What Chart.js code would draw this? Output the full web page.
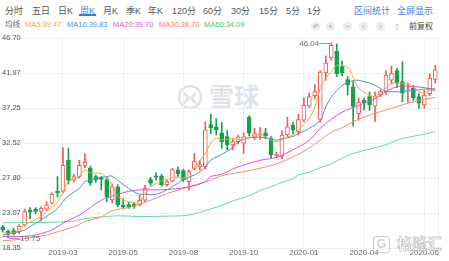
<!DOCTYPE html>
<html>
<head>
<meta charset="utf-8">
<script src="https://cdn.jsdelivr.net/npm/chart.js@4.4.0/dist/chart.umd.min.js"></script>
<style>
  body { margin: 0; background: #fff; font-family: "Liberation Sans", "Noto Sans CJK SC", sans-serif; }
  #wrap { position: relative; width: 449px; height: 261px; overflow: hidden; }
  .t { position: absolute; white-space: nowrap; line-height: 1; }
  .tab { top: 6.5px; font-size: 9px; color: #555; }
  .blue { color: #3d7de0; }
  .ma { top: 20.8px; font-size: 7.5px; }
  .ic { position: absolute; top: 22px; width: 9px; height: 9px; border-radius: 50%; background: #ececec;
        color: #9a9a9a; font-size: 7px; line-height: 9px; text-align: center; }
  #chart { position: absolute; left: 0; top: 0; z-index: 1; }
  #xq { position: absolute; left: 176px; top: 83px; z-index: 0; }
  #glh { position: absolute; left: 372px; top: 235px; z-index: 2; }
</style>
</head>
<body>
<div id="wrap">
  <span class="t tab" style="left:5px">分时</span>
  <span class="t tab" style="left:32px">五日</span>
  <span class="t tab" style="left:58px">日K</span>
  <span class="t tab blue" style="left:80px">周K</span>
  <div style="position:absolute;left:79px;top:14px;width:17px;height:1.5px;background:#3d7de0"></div>
  <span class="t tab" style="left:103px">月K</span>
  <span class="t tab" style="left:126px">季K</span>
  <span class="t tab" style="left:148px">年K</span>
  <span class="t tab" style="left:172px">120分</span>
  <span class="t tab" style="left:203px">60分</span>
  <span class="t tab" style="left:231px">30分</span>
  <span class="t tab" style="left:259px">15分</span>
  <span class="t tab" style="left:286px">5分</span>
  <span class="t tab" style="left:307px">1分</span>
  <span class="t tab blue" style="left:354px">区间统计</span>
  <span class="t tab blue" style="left:397px">全屏显示</span>

  <span class="t ma" style="left:5px;color:#666">均线</span>
  <span class="t ma" style="left:25px;color:#f5a33c">MA5:39.47</span>
  <span class="t ma" style="left:67px;color:#4d8fd6">MA10:39.83</span>
  <span class="t ma" style="left:113px;color:#e255cf">MA20:39.70</span>
  <span class="t ma" style="left:159px;color:#fa7d57">MA30:38.70</span>
  <span class="t ma" style="left:204px;color:#3cc77f">MA60:34.09</span>

  <span class="ic" style="left:311px">&#x21b6;</span>
  <span class="ic" style="left:326px">+</span>
  <span class="ic" style="left:343px">&minus;</span>
  <span class="ic" style="left:359px">&lsaquo;</span>
  <span class="ic" style="left:376px">&rsaquo;</span>
  <span class="ic" style="left:392px;background:none;color:#aaa">&#x25af;</span>
  <span class="t" style="left:409px;top:23px;font-size:8px;color:#444">前复权</span>

  <div id="xq">
    <svg width="90" height="30" style="position:absolute;left:0;top:0">
      <circle cx="14" cy="14" r="11" fill="none" stroke="#dfe4ec" stroke-width="2.5"/>
      <path d="M8 10 L13 15 L8 20 M20 10 L15 15 L20 20" fill="none" stroke="#dfe4ec" stroke-width="2.5"/>
    </svg>
    <span class="t" style="left:33px;top:2px;font-size:25px;font-weight:bold;color:#dfe4ec">雪球</span>
  </div>

  <div id="glh">
    <div style="position:absolute;left:1px;top:1px;width:15px;height:15px;border:1.5px solid #cfcfcf;border-radius:3px;
                color:#cfcfcf;font-size:12px;font-weight:bold;line-height:15px;text-align:center">G</div>
    <span class="t" style="left:25px;top:1px;font-size:15px;font-weight:bold;color:rgba(255,255,255,0.7);-webkit-text-stroke:0.8px #c6c6c6">格隆汇</span>
  </div>

  <canvas id="chart" width="449" height="261"></canvas>
</div>

<script>
// weekly bars, Fridays (holiday weeks skipped)
const weeks = ['2018-12-14','2018-12-21','2018-12-28','2019-01-04','2019-01-11','2019-01-18','2019-01-25','2019-02-01',
  '2019-02-15','2019-02-22','2019-03-01','2019-03-08','2019-03-15','2019-03-22','2019-03-29','2019-04-04','2019-04-12',
  '2019-04-19','2019-04-26','2019-04-30','2019-05-10','2019-05-17','2019-05-24','2019-05-31','2019-06-06','2019-06-14',
  '2019-06-21','2019-06-28','2019-07-05','2019-07-12','2019-07-19','2019-07-26','2019-08-02','2019-08-09','2019-08-16',
  '2019-08-23','2019-08-30','2019-09-06','2019-09-12','2019-09-20','2019-09-27','2019-09-30','2019-10-11','2019-10-18',
  '2019-10-25','2019-11-01','2019-11-08','2019-11-15','2019-11-22','2019-11-29','2019-12-06','2019-12-13','2019-12-20',
  '2019-12-27','2020-01-03','2020-01-10','2020-01-17','2020-01-23','2020-02-07','2020-02-14','2020-02-21','2020-02-28',
  '2020-03-06','2020-03-13','2020-03-20','2020-03-27','2020-04-03','2020-04-10','2020-04-17','2020-04-24','2020-04-30',
  '2020-05-08','2020-05-15','2020-05-22','2020-05-29','2020-06-05','2020-06-12','2020-06-19','2020-06-24','2020-07-03'];

const opens  = [21.2,20.6,20.7,20.55,21.45,23.5,23.6,23.3,23.6,24.4,26.0,26.0,30.2,27.5,28.0,29.5,29.1,28.0,27.9,27.6,
  24.85,26.6,24.15,24.2,24.25,24.15,24.8,27.6,28.1,28.1,26.9,27.4,28.9,28.8,27.3,29.1,29.3,29.3,35.0,34.7,
  33.9,33.4,32.25,32.7,32.5,36.0,33.3,33.6,33.9,33.2,30.8,30.7,33.6,34.95,34.05,35.6,37.5,38.9,35.7,42.0,
  44.0,44.9,42.85,41.1,40.1,36.5,38.3,38.8,37.5,39.0,39.45,41.0,42.3,40.8,39.6,39.9,38.8,37.65,39.2,41.1];
const highs  = [21.4,20.8,21.0,21.5,23.6,23.8,23.8,23.9,24.6,25.8,28.0,31.9,31.8,28.3,30.2,31.1,29.4,28.2,28.0,27.9,
  27.0,26.9,25.0,24.5,24.5,25.5,26.8,27.9,28.5,28.3,27.5,29.1,29.3,29.0,28.9,31.1,30.2,35.4,36.4,35.8,
  35.3,34.2,33.1,33.6,33.9,36.2,34.5,34.6,34.5,33.4,31.3,34.2,36.0,35.3,36.4,38.6,39.3,40.4,42.3,44.3,
  46.04,45.9,43.6,41.5,40.8,38.6,38.6,39.4,39.4,39.7,42.3,42.9,42.6,43.5,40.6,40.3,39.2,39.6,41.9,43.0];
const lows   = [20.5,19.75,20.1,20.3,21.3,22.3,23.0,22.0,23.4,24.3,25.2,25.8,27.0,27.3,27.8,29.2,26.8,27.2,26.2,24.6,
  24.4,23.9,23.7,23.7,23.7,24.0,24.6,26.8,27.5,26.7,26.7,27.3,28.0,27.3,26.2,28.9,28.9,29.0,33.8,33.6,
  31.8,31.6,31.6,32.4,31.1,33.5,33.0,33.0,33.1,30.4,30.5,30.4,33.4,33.8,33.6,35.4,37.3,38.5,35.3,41.0,
  43.7,41.5,41.6,39.0,34.8,35.6,37.0,36.9,35.4,38.8,39.1,40.5,40.0,38.1,38.0,38.3,37.2,37.2,38.9,40.6];
const closes = [20.8,20.3,20.3,21.3,23.25,23.2,23.3,23.7,24.15,25.6,25.8,29.5,27.5,28.0,29.5,29.9,27.1,27.5,27.6,25.2,
  26.6,24.2,23.85,23.85,23.95,24.8,26.4,27.1,27.9,26.9,27.3,28.95,28.4,27.55,28.65,30.0,29.6,34.3,34.6,34.3,
  32.7,32.3,32.7,33.35,33.35,33.85,33.8,33.75,33.5,30.9,31.0,33.6,34.7,34.3,35.7,37.6,38.8,39.45,42.1,43.3,
  45.7,41.9,42.0,40.35,37.45,38.0,37.9,37.65,38.8,39.45,41.7,41.9,40.6,39.25,39.7,38.6,37.9,39.0,41.3,42.4];

// moving averages: [bar index, value]
const ma5 = [[0,20.4],[2,20.4],[4,21.45],[7,22.6],[8,23.25],[10,24.6],[11,25.95],[12,27.3],[14,28.0],[15,28.9],
  [16,28.5],[18,28.4],[19,27.8],[20,26.85],[21,25.3],[23,24.6],[25,24.65],[26,25.7],[27,26.6],[29,27.4],[30,27.6],
  [31,27.9],[32,27.9],[33,27.8],[34,28.4],[35,29.3],[37,31.1],[38,32.5],[39,33.2],[40,32.95],[41,33.0],[42,33.15],
  [44,32.95],[45,33.35],[46,33.6],[48,33.4],[49,32.95],[50,32.7],[51,32.9],[52,33.35],[53,33.6],[54,34.3],[56,35.85],
  [57,37.4],[58,39.9],[59,41.25],[60,42.15],[61,43.0],[63,42.7],[64,41.45],[65,39.9],[67,39.0],[68,38.8],[69,39.25],
  [70,39.9],[71,40.55],[73,40.6],[74,40.5],[75,40.1],[76,39.45],[77,39.3],[78,39.65],[79,39.47]];
const ma10 = [[0,20.1],[2,20.35],[4,20.8],[6,21.7],[9,23.1],[10,23.7],[11,24.6],[12,25.4],[14,26.4],[15,27.3],
  [17,27.75],[19,28.0],[20,28.05],[21,27.5],[23,26.4],[25,25.6],[26,25.6],[28,25.6],[30,26.2],[32,27.1],[33,27.6],
  [35,28.2],[36,28.65],[37,29.3],[38,30.2],[40,31.0],[42,31.9],[43,32.7],[45,33.2],[47,33.3],[49,33.1],[50,32.9],
  [51,33.1],[53,33.4],[54,33.8],[56,34.5],[58,35.6],[59,37.4],[60,38.7],[61,39.6],[62,40.3],[63,40.7],[64,40.95],
  [65,41.0],[67,40.6],[68,40.3],[69,39.9],[70,39.5],[71,39.45],[73,39.45],[74,39.55],[76,39.7],[77,39.8],[79,39.83]];
const ma20 = [[0,19.9],[3,19.9],[6,20.1],[9,20.8],[11,21.7],[14,22.8],[16,23.8],[18,24.8],[21,25.6],[23,26.0],
  [25,26.2],[29,26.2],[34,26.6],[37,27.3],[38,28.0],[40,28.3],[42,29.0],[43,29.3],[46,30.0],[47,30.2],[50,30.6],
  [53,31.6],[56,32.9],[58,34.5],[60,35.7],[62,36.7],[65,37.6],[68,38.5],[70,39.5],[72,40.1],[74,40.2],[77,40.0],[79,39.7]];
const ma30 = [[0,19.35],[3,19.5],[6,19.85],[8,20.1],[10,20.55],[13,21.2],[15,21.9],[18,22.55],[20,23.4],[23,23.8],
  [25,24.3],[27,24.8],[30,25.7],[34,26.6],[38,27.5],[40,28.1],[45,28.8],[48,29.3],[50,29.7],[52,30.3],[55,31.4],
  [58,32.9],[60,34.0],[62,34.6],[64,35.4],[67,36.3],[71,37.2],[74,37.9],[77,38.4],[79,38.7]];
const ma60 = [[0,21.75],[12,21.9],[15,22.3],[18,22.55],[21,22.7],[25,22.6],[30,22.65],[34,22.8],[37,23.4],[40,24.1],
  [42,24.7],[45,25.4],[47,26.1],[49,26.6],[51,27.2],[53,27.7],[54,28.2],[56,28.6],[58,29.2],[60,29.7],[62,30.5],
  [64,31.1],[67,31.7],[70,32.3],[72,32.9],[74,33.3],[77,33.7],[79,34.09]];

const yTicks = [18.35, 23.07, 27.80, 32.52, 37.25, 41.97, 46.70];
const tickDates = ['2019-03-08','2019-05-24','2019-08-09','2019-10-25','2020-01-10','2020-04-03','2020-06-19'];

const RED = '#f05a52', GREEN = '#15a04c';
const isUp = i => closes[i] >= opens[i];
const FONT = '"Liberation Sans", "Noto Sans CJK SC", sans-serif';
Chart.defaults.font.family = FONT;

const toPts = arr => arr.map(([i, v]) => ({ x: weeks[i], y: v }));
const maLine = (data, color) => ({
  type: 'line', data: toPts(data), borderColor: color, borderWidth: 1,
  pointRadius: 0, tension: 0.35, order: 0
});

// highest / lowest labels
const extremes = {
  id: 'extremes',
  afterDatasetsDraw(chart) {
    const { ctx, chartArea, scales: { x, y } } = chart;
    ctx.save();
    ctx.strokeStyle = '#eeeeee';
    ctx.lineWidth = 1;
    ctx.beginPath();
    ctx.moveTo(Math.round(chartArea.right) + 0.5, chartArea.top);
    ctx.lineTo(Math.round(chartArea.right) + 0.5, chartArea.bottom);
    ctx.stroke();

    ctx.font = '8px ' + FONT;
    ctx.fillStyle = '#666';
    ctx.strokeStyle = '#999';
    ctx.textBaseline = 'middle';
    const hi = highs.indexOf(Math.max(...highs));
    let px = x.getPixelForValue(hi), py = Math.round(y.getPixelForValue(highs[hi])) + 0.5;
    ctx.beginPath(); ctx.moveTo(px - 12, py); ctx.lineTo(px - 1, py); ctx.stroke();
    ctx.textAlign = 'right';
    ctx.fillText(highs[hi].toFixed(2), px - 12, py);

    const lo = lows.indexOf(Math.min(...lows));
    px = x.getPixelForValue(lo); py = Math.round(y.getPixelForValue(lows[lo])) + 0.5;
    ctx.beginPath(); ctx.moveTo(px + 1, py); ctx.lineTo(px + 12, py); ctx.stroke();
    ctx.textAlign = 'left';
    ctx.fillText(lows[lo].toFixed(2), px + 12, py);
    ctx.restore();
  }
};

new Chart(document.getElementById('chart'), {
  type: 'bar',
  data: {
    labels: weeks,
    datasets: [
      maLine(ma5, '#f7a531'),
      maLine(ma10, '#4b8fdc'),
      maLine(ma20, '#e94bd0'),
      maLine(ma30, '#f98b6b'),
      maLine(ma60, '#6ad7a4'),
      {
        // candle bodies
        data: opens.map((o, i) => [o, closes[i]]),
        backgroundColor: opens.map((o, i) => isUp(i) ? '#ffffff' : GREEN),
        borderColor: opens.map((o, i) => isUp(i) ? RED : GREEN),
        borderWidth: 1, borderSkipped: false, barThickness: 4, grouped: false, order: 1
      },
      {
        // wicks
        data: lows.map((l, i) => [l, highs[i]]),
        backgroundColor: lows.map((l, i) => isUp(i) ? RED : GREEN),
        barThickness: 1, grouped: false, order: 2
      }
    ]
  },
  options: {
    responsive: false,
    animation: false,
    events: [],
    layout: { padding: { top: 38, right: 11, left: 0, bottom: 0 } },
    plugins: { legend: { display: false }, tooltip: { enabled: false } },
    scales: {
      x: {
        offset: true,
        border: { display: false },
        grid: {
          offset: false, drawTicks: false,
          color: ctx => (ctx.tick && ctx.tick.label) ? '#efefef' : 'rgba(0,0,0,0)'
        },
        ticks: {
          autoSkip: false, maxRotation: 0, padding: 0, color: '#666', font: { size: 8 },
          callback: (v, i) => tickDates.includes(weeks[i]) ? weeks[i].slice(0, 7) : ''
        },
        afterFit(s) { s.height = 13; }
      },
      y: {
        min: 18.35, max: 46.70,
        border: { display: false },
        grid: { drawTicks: false, color: '#efefef' },
        afterBuildTicks(s) { s.ticks = yTicks.map(v => ({ value: v })); },
        ticks: { mirror: true, padding: 2, color: '#555', font: { size: 7.5 }, callback: v => v.toFixed(2) },
        afterFit(s) { s.width = 0; }
      }
    }
  },
  plugins: [extremes]
});
</script>
</body>
</html>
